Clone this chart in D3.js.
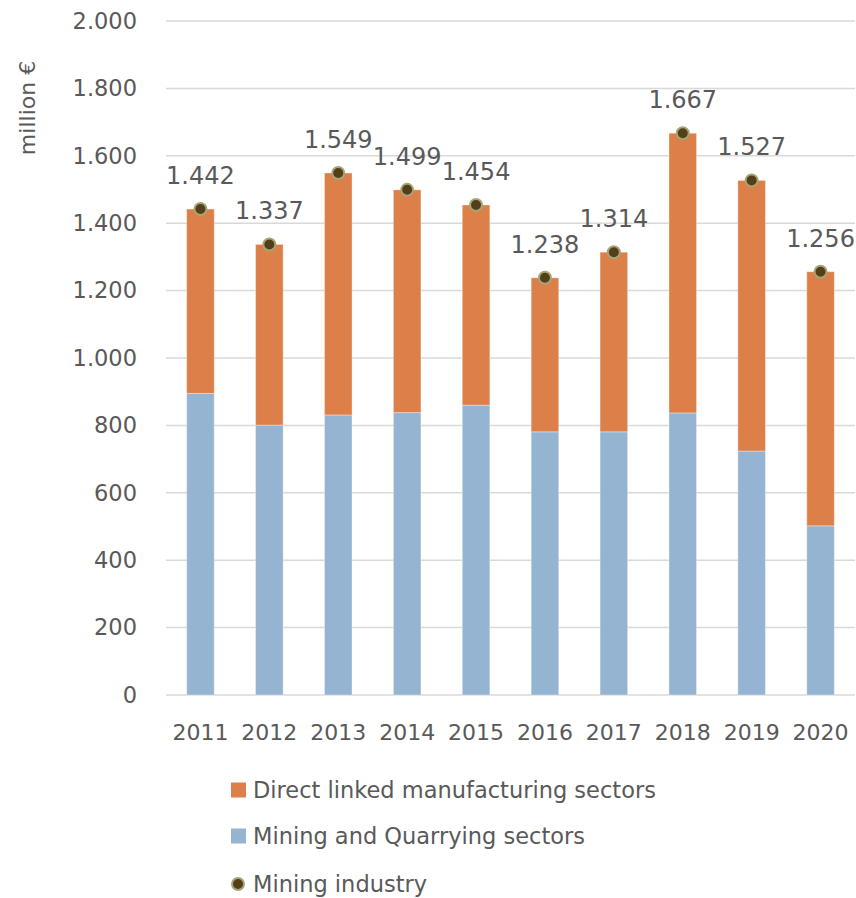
<!DOCTYPE html>
<html>
<head>
<meta charset="utf-8">
<script src="https://cdn.jsdelivr.net/npm/d3@7"></script>
<style>
  html, body { margin: 0; padding: 0; background: #ffffff; }
  svg { display: block; }
  text { font-family: "DejaVu Sans", sans-serif; fill: #595959; }
</style>
</head>
<body>
<svg id="chart" width="856" height="898"></svg>
<script>
// Yearly values in million euro
const years = ["2011", "2012", "2013", "2014", "2015", "2016", "2017", "2018", "2019", "2020"];
const miningQuarrying = [895, 801, 831, 838, 860, 781, 781, 837, 724, 502];
const miningIndustry = [1442, 1337, 1549, 1499, 1454, 1238, 1314, 1667, 1527, 1256];
const directLinked = miningIndustry.map((t, i) => t - miningQuarrying[i]);
const yTicks = [0, 200, 400, 600, 800, 1000, 1200, 1400, 1600, 1800, 2000];

const seriesNames = {
  direct: "Direct linked manufacturing sectors",
  mining: "Mining and Quarrying sectors",
  industry: "Mining industry"
};
const colors = { direct: "#dd7f48", mining: "#95b4d2", dotFill: "#553f1b", dotStroke: "#a3a676" };

const locale = d3.formatLocale({ decimal: ",", thousands: ".", grouping: [3], currency: ["", " €"] });
const fmt = locale.format(",d");

const svg = d3.select("#chart");
const plot = { left: 166, right: 855, top: 21, bottom: 695 };

const x = d3.scaleBand().domain(years).range([plot.left, plot.right]).paddingInner(0.6).paddingOuter(0.3);
const y = d3.scaleLinear().domain([0, 2000]).range([plot.bottom, plot.top]);

// Gridlines
svg.append("g").selectAll("line").data(yTicks).join("line")
  .attr("x1", plot.left).attr("x2", plot.right)
  .attr("y1", d => y(d)).attr("y2", d => y(d))
  .attr("stroke", "#d9d9d9").attr("stroke-width", 1.5);

// Y axis labels
const yAxis = d3.axisLeft(y).tickValues(yTicks).tickFormat(fmt).tickSize(0).tickPadding(0);
const gy = svg.append("g").attr("transform", "translate(137,0)").call(yAxis);
gy.select(".domain").remove();
gy.selectAll("text").style("font-family", "DejaVu Sans, sans-serif").attr("font-size", 22.5).attr("fill", "#595959");

// X axis labels
const xAxis = d3.axisBottom(x).tickSize(0).tickPadding(0);
const gx = svg.append("g").attr("transform", `translate(0,${plot.bottom})`).call(xAxis);
gx.select(".domain").remove();
gx.selectAll("text").style("font-family", "DejaVu Sans, sans-serif").attr("font-size", 22)
  .attr("fill", "#595959").attr("dy", null).attr("y", 45);

// Y axis title
svg.append("text")
  .attr("transform", "translate(27,108) rotate(-90)")
  .attr("text-anchor", "middle").attr("dominant-baseline", "central")
  .attr("font-size", 22).text("million €");

// Stacked bars
const rows = years.map((yr, i) => ({ year: yr, mining: miningQuarrying[i], direct: directLinked[i] }));
const stacked = d3.stack().keys(["mining", "direct"])(rows);
svg.append("g").selectAll("g").data(stacked).join("g")
  .attr("fill", d => colors[d.key])
  .selectAll("rect").data(d => d).join("rect")
  .attr("x", d => x(d.data.year))
  .attr("width", x.bandwidth())
  .attr("y", d => y(d[1]))
  .attr("height", d => y(d[0]) - y(d[1]))
  .attr("stroke", "rgba(255,255,255,0.35)").attr("stroke-width", 1);

// Total markers and labels
const cx = yr => x(yr) + x.bandwidth() / 2;
svg.append("g").selectAll("circle").data(years).join("circle")
  .attr("cx", d => cx(d))
  .attr("cy", (d, i) => y(miningIndustry[i]))
  .attr("r", 6)
  .attr("fill", colors.dotFill).attr("stroke", colors.dotStroke).attr("stroke-width", 2);

svg.append("g").selectAll("text").data(years).join("text")
  .attr("x", d => cx(d))
  .attr("y", (d, i) => y(miningIndustry[i]) - 25)
  .attr("text-anchor", "middle")
  .attr("font-size", 24)
  .attr("fill", "#404040")
  .text((d, i) => fmt(miningIndustry[i]));

// Legend
const legend = svg.append("g");
const legendItems = [
  { key: "direct", label: seriesNames.direct, y: 790 },
  { key: "mining", label: seriesNames.mining, y: 836 },
  { key: "industry", label: seriesNames.industry, y: 884 }
];
legendItems.forEach(it => {
  if (it.key === "industry") {
    legend.append("circle").attr("cx", 238).attr("cy", it.y).attr("r", 6)
      .attr("fill", colors.dotFill).attr("stroke", colors.dotStroke).attr("stroke-width", 2);
  } else {
    legend.append("rect").attr("x", 231).attr("y", it.y - 7.5).attr("width", 15).attr("height", 15)
      .attr("fill", colors[it.key]);
  }
  legend.append("text").attr("x", 253).attr("y", it.y).attr("dy", "0.35em")
    .attr("font-size", 22.5).text(it.label);
});
</script>
</body>
</html>
